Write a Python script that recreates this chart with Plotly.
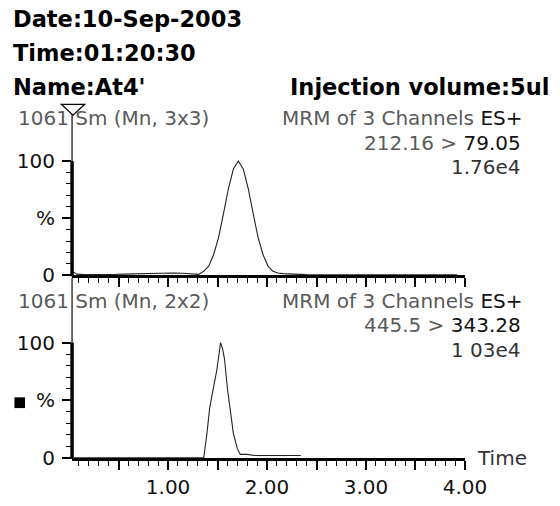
import plotly.graph_objects as go

# ---------------- data ----------------
top_time = [0.04, 0.08, 0.15, 0.25, 0.35, 0.45, 0.55, 0.65, 0.75, 0.85, 0.95, 1.05,
            1.15, 1.25, 1.31, 1.36, 1.41, 1.46, 1.51, 1.56, 1.61, 1.66, 1.71, 1.76,
            1.81, 1.86, 1.91, 1.96, 2.01, 2.06, 2.11, 2.16, 2.25, 2.40, 2.60, 2.80,
            3.00, 3.20, 3.40, 3.60, 3.80, 3.92]
top_pct = [3.0, 1.0, 0.6, 0.5, 0.5, 0.7, 1.0, 1.3, 1.6, 1.8, 2.0, 2.0,
           1.8, 1.4, 0.8, 3.5, 8, 18, 33, 54, 76, 93, 100, 93,
           76, 54, 33, 18, 8, 3.5, 2.0, 1.5, 1.0, 0.6, 0.5, 0.5,
           0.6, 0.5, 0.6, 0.5, 0.6, 0.5]

bot_time = [0.05, 1.30, 1.36, 1.39, 1.42, 1.45, 1.49, 1.52, 1.53, 1.55, 1.57, 1.60,
            1.63, 1.66, 1.70, 1.73, 1.80, 1.87, 2.00, 2.15, 2.34]
bot_pct = [0, 0, 0, 19, 43, 57, 75, 93, 100, 95, 86, 60,
           38, 21, 8, 3, 3, 2, 2, 2, 2]

x_major = [0.5, 1.0, 1.5, 2.0, 2.5, 3.0, 3.5, 4.0]
x_major_text = ["", "1.00", "", "2.00", "", "3.00", "", "4.00"]
x_minor = [round(i * 0.1, 1) for i in range(1, 40) if i % 5 != 0]
y_major = [0, 50, 100]
y_major_text = ["0", "%", "100"]
y_minor = [10, 20, 30, 40, 60, 70, 80, 90]

header_lines = ["Date:10-Sep-2003", "Time:01:20:30", "Name:At4'"]
injection = "Injection volume:5ul"
panel_left = ["1061 Sm (Mn, 3x3)", "1061 Sm (Mn, 2x2)"]
panel_channel = ["212.16 > ", "445.5 > "]
panel_product = ["79.05", "343.28"]
panel_scale = ["1.76e4", "1 03e4"]

# ---------------- layout geometry ----------------
W, H = 560, 506
def py(px):
    return 1 - px / H
def pxx(px):
    return px / W

XL, XR = 75, 484
x_range = [0.03, 4.0]
top_zero, top_hundred, top_top = 282, 165, 117
bot_zero, bot_hundred, bot_top = 469, 351, 285
top_rmax = (top_zero - top_top) / ((top_zero - top_hundred) / 100)
bot_rmax = (bot_zero - bot_top) / ((bot_zero - bot_hundred) / 100)

FONT = "DejaVu Sans"
LIGHT = "#5a5a5a"
DARK = "#111111"
TXT = 20

fig = go.Figure()
fig.add_trace(go.Scatter(x=top_time, y=top_pct, mode="lines",
                         line=dict(color="#222", width=1.1),
                         xaxis="x", yaxis="y", showlegend=False))
fig.add_trace(go.Scatter(x=bot_time, y=bot_pct, mode="lines",
                         line=dict(color="#222", width=1.1),
                         xaxis="x2", yaxis="y2", showlegend=False))

def xaxis_cfg(labels, anchor):
    return dict(domain=[pxx(XL), pxx(XR)], range=x_range, anchor=anchor,
                showline=True, linewidth=3, linecolor="black",
                showgrid=False, zeroline=False,
                tickmode="array", tickvals=x_major,
                ticktext=x_major_text if labels else [""] * len(x_major),
                showticklabels=labels,
                ticks="outside", ticklen=9, tickwidth=1.5, tickcolor="black",
                minor=dict(tickmode="array", tickvals=x_minor, ticks="outside",
                           ticklen=5, tickwidth=1.2, tickcolor="black"),
                tickfont=dict(family=FONT, size=TXT, color=DARK),
                fixedrange=True)

def yaxis_cfg(domain, rmax, anchor):
    return dict(domain=domain, range=[0, rmax], anchor=anchor,
                showline=False, showgrid=False, zeroline=False,
                tickmode="array", tickvals=y_major, ticktext=y_major_text,
                ticks="outside", ticklen=9, tickwidth=1.5, tickcolor="black",
                ticklabelstandoff=3,
                minor=dict(tickmode="array", tickvals=y_minor, ticks="outside",
                           ticklen=5, tickwidth=1.2, tickcolor="black"),
                tickfont=dict(family=FONT, size=TXT, color=DARK),
                fixedrange=True)

fig.update_layout(
    width=W, height=H, margin=dict(l=0, r=0, t=0, b=0),
    paper_bgcolor="white", plot_bgcolor="white",
    xaxis=xaxis_cfg(False, "y"),
    yaxis=yaxis_cfg([py(top_zero), py(top_top)], top_rmax, "x"),
    xaxis2=xaxis_cfg(True, "y2"),
    yaxis2=yaxis_cfg([py(bot_zero), py(bot_top)], bot_rmax, "x2"),
    showlegend=False,
)

shapes = []
for zero, hundred, top in ((top_zero, top_hundred, top_top), (bot_zero, bot_hundred, bot_top)):
    scale = (zero - hundred) / 100
    # thin full-height axis line
    shapes.append(dict(type="rect", xref="paper", yref="paper",
                       x0=pxx(XL - 0.6), x1=pxx(XL + 0.6),
                       y0=py(zero), y1=py(top), fillcolor="black",
                       line=dict(width=0), layer="above"))
    # thick 0-100 segment
    shapes.append(dict(type="rect", xref="paper", yref="paper",
                       x0=pxx(XL - 1.8), x1=pxx(XL + 1.8),
                       y0=py(zero - y_major[0] * scale + 1),
                       y1=py(zero - y_major[-1] * scale),
                       fillcolor="black", line=dict(width=0), layer="above"))
# triangle marker at top of first axis
shapes.append(dict(type="path", xref="paper", yref="paper",
                   path=f"M {pxx(64)},{py(107)} L {pxx(88)},{py(107)} L {pxx(XL+1)},{py(118)} Z",
                   line=dict(color="black", width=1.3), fillcolor="rgba(0,0,0,0)"))
# black square marker
shapes.append(dict(type="rect", xref="paper", yref="paper",
                   x0=pxx(15), x1=pxx(26), y0=py(418), y1=py(407),
                   fillcolor="black", line=dict(width=0)))
fig.update_layout(shapes=shapes)

ann = []
for txt, ypx in zip(header_lines, [19, 54, 89]):
    ann.append(dict(text=f"<b>{txt}</b>", x=pxx(11), y=py(ypx), xanchor="left",
                    yanchor="middle", font=dict(family=FONT, size=22.5, color="black")))
ann.append(dict(text=f"<b>{injection}</b>", x=pxx(300), y=py(89), xanchor="left",
                yanchor="middle", font=dict(family=FONT, size=22.5, color="black")))

for i, (l1, l2, l3) in enumerate([(121, 146, 171), (308, 333, 358)]):
    ann.append(dict(text=panel_left[i], x=pxx(17), y=py(l1), xanchor="left",
                    yanchor="middle", font=dict(family=FONT, size=TXT, color=LIGHT)))
    ann.append(dict(text=f"MRM of 3 Channels <span style='color:{DARK}'>ES+</span>",
                    x=pxx(545), y=py(l1), xanchor="right", yanchor="middle",
                    font=dict(family=FONT, size=TXT, color=LIGHT)))
    ann.append(dict(text=f"{panel_channel[i]}<span style='color:{DARK}'>{panel_product[i]}</span>",
                    x=pxx(544), y=py(l2), xanchor="right", yanchor="middle",
                    font=dict(family=FONT, size=TXT, color=LIGHT)))
    ann.append(dict(text=panel_scale[i], x=pxx(544), y=py(l3), xanchor="right",
                    yanchor="middle", font=dict(family=FONT, size=TXT, color="#333")))

ann.append(dict(text="Time", x=pxx(494), y=py(469), xanchor="left", yanchor="middle",
                font=dict(family=FONT, size=TXT, color="#333")))
for a in ann:
    a.update(xref="paper", yref="paper", showarrow=False)
fig.update_layout(annotations=ann)

fig.write_html("out.html")
